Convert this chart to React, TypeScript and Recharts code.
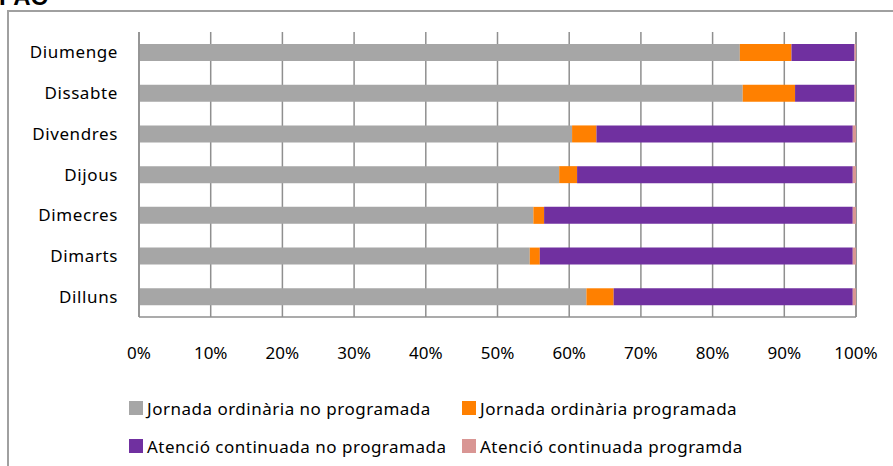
import { BarChart, Bar, XAxis, YAxis, CartesianGrid, Legend } from "recharts";

// days, top to bottom as in the picture
const days = ["Diumenge", "Dissabte", "Divendres", "Dijous", "Dimecres", "Dimarts", "Dilluns"];

// % of each day
const ordinaryUnplanned = [83.8, 84.2, 60.4, 58.6, 55.0, 54.5, 62.4];
const ordinaryPlanned = [7.2, 7.3, 3.4, 2.5, 1.5, 1.4, 3.8];
const continuedUnplanned = [8.8, 8.3, 35.75, 38.45, 43.05, 43.65, 33.35];
const continuedPlanned = [0.2, 0.2, 0.45, 0.45, 0.45, 0.45, 0.45];

const xTicks = [0, 10, 20, 30, 40, 50, 60, 70, 80, 90, 100];

const seriesKeys = ["jnp", "jp", "acnp", "acp"];

const data = days.map((day, i) => ({
  day,
  jnp: ordinaryUnplanned[i],
  jp: ordinaryPlanned[i],
  acnp: continuedUnplanned[i],
  acp: continuedPlanned[i],
}));

const COLORS = {
  gray: "#a6a6a6",
  orange: "#ff8000",
  purple: "#7030a0",
  pink: "#d99694",
  grid: "#8f8f8f",
};

const FONT = "'Noto Sans', sans-serif";

function LegendBox({ payload }: any) {
  // keep the series order, not alphabetical
  const items = [...(payload || [])].sort(
    (a: any, b: any) => seriesKeys.indexOf(a.dataKey) - seriesKeys.indexOf(b.dataKey)
  );
  return (
    <div
      style={{
        display: "grid",
        gridTemplateColumns: "333px auto",
        gridAutoRows: "38px",
        paddingLeft: 129,
        fontFamily: FONT,
        fontSize: 17,
        letterSpacing: 0.5,
        color: "#000",
      }}
    >
      {items.map((p: any) => (
        <div key={p.value} style={{ display: "flex", alignItems: "center" }}>
          <span style={{ width: 14, height: 14, background: p.color, marginRight: 4, display: "inline-block" }} />
          <span>{p.value}</span>
        </div>
      ))}
    </div>
  );
}

export default function App() {
  return (
    <div style={{ position: "fixed", left: 0, top: 0, width: 893, height: 466, overflow: "hidden", background: "#fff" }}>
      <div
        style={{
          position: "absolute",
          left: -1,
          top: -15,
          fontFamily: "'Liberation Sans', Arial, sans-serif",
          fontWeight: "bold",
          fontSize: 24,
          lineHeight: "24px",
          color: "#000",
        }}
      >
        PAC
      </div>
      <div
        style={{
          position: "absolute",
          left: 7,
          top: 10,
          width: 1000,
          height: 1000,
          border: "2px solid #a0a0a0",
        }}
      />
      <div style={{ position: "absolute", left: 0, top: 0 }}>
        <BarChart
          width={893}
          height={466}
          data={data}
          layout="vertical"
          margin={{ top: 32, right: 37, left: 0, bottom: 1 }}
        >
          <CartesianGrid horizontal={false} stroke={COLORS.grid} strokeWidth={1.5} />
          <XAxis
            type="number"
            domain={[0, 100]}
            ticks={xTicks}
            tickFormatter={(v) => `${v}%`}
            interval={0}
            height={72}
            tickLine={false}
            tickMargin={24}
            axisLine={{ stroke: COLORS.grid, strokeWidth: 1.5 }}
            tick={{ fill: "#000", fontSize: 17, fontFamily: FONT }}
          />
          <YAxis
            type="category"
            dataKey="day"
            width={139}
            tickLine={false}
            tickMargin={15}
            axisLine={{ stroke: COLORS.grid, strokeWidth: 1.5 }}
            tick={{ fill: "#000", fontSize: 17, fontFamily: FONT, letterSpacing: 0.6 }}
          />
          <Legend content={<LegendBox />} wrapperStyle={{ left: 0, width: 893 }} />
          <Bar dataKey="jnp" name="Jornada ordinària no programada" stackId="a" fill={COLORS.gray} barSize={17} isAnimationActive={false} />
          <Bar dataKey="jp" name="Jornada ordinària programada" stackId="a" fill={COLORS.orange} barSize={17} isAnimationActive={false} />
          <Bar dataKey="acnp" name="Atenció continuada no programada" stackId="a" fill={COLORS.purple} barSize={17} isAnimationActive={false} />
          <Bar dataKey="acp" name="Atenció continuada programda" stackId="a" fill={COLORS.pink} barSize={17} isAnimationActive={false} />
        </BarChart>
      </div>
    </div>
  );
}
